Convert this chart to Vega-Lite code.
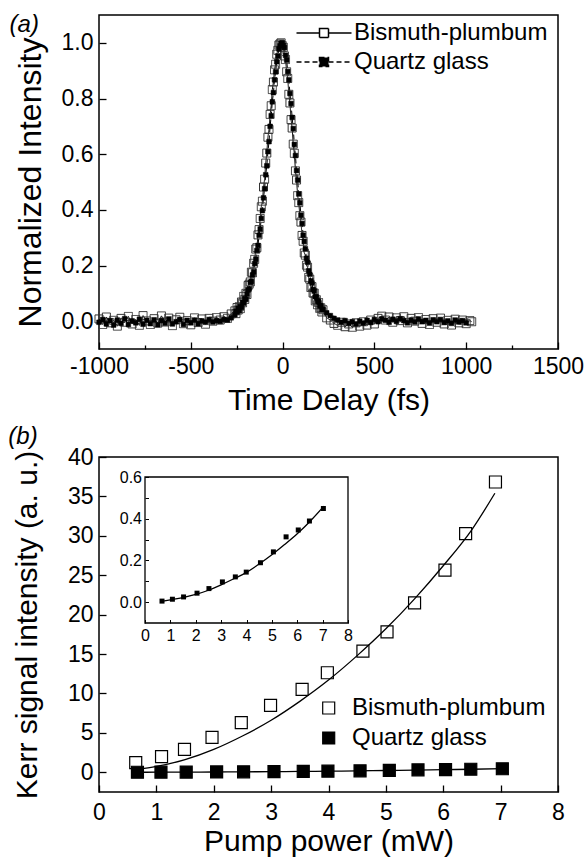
{
  "$schema": "https://vega.github.io/schema/vega-lite/v6.json",
  "background": "white",
  "padding": {"left": 7, "top": 12, "right": 0, "bottom": 0},
  "spacing": 8,
  "config": {
    "font": "Liberation Sans",
    "view": {"stroke": "black", "strokeWidth": 1.5},
    "axis": {"grid": false, "domain": false, "labelFont": "Liberation Sans", "titleFont": "Liberation Sans", "labelColor": "black", "titleColor": "black", "tickColor": "black", "tickWidth": 1.3, "labelFontSize": 23, "titleFontSize": 30, "titleFontWeight": "normal", "labelFlush": false, "labelOverlap": false},
    "legend": {"labelFont": "Liberation Sans", "labelColor": "black", "labelFontSize": 24, "labelLimit": 400, "padding": 0, "titlePadding": 0},
    "text": {"font": "Liberation Sans", "fontSize": 24, "color": "black"}
  },
  "datasets": {
    "pulse": [
      {"t":-1000,"Bismuth-plumbum":0.008,"Quartz glass":-0.004},
      {"t":-980,"Bismuth-plumbum":-0.012,"Quartz glass":0.006},
      {"t":-960,"Bismuth-plumbum":0.015,"Quartz glass":-0.010},
      {"t":-940,"Bismuth-plumbum":-0.006,"Quartz glass":0.002},
      {"t":-920,"Bismuth-plumbum":0.003,"Quartz glass":-0.014},
      {"t":-900,"Bismuth-plumbum":-0.018,"Quartz glass":0.004},
      {"t":-880,"Bismuth-plumbum":0.010,"Quartz glass":-0.008},
      {"t":-860,"Bismuth-plumbum":-0.004,"Quartz glass":0.009},
      {"t":-840,"Bismuth-plumbum":0.017,"Quartz glass":-0.012},
      {"t":-820,"Bismuth-plumbum":-0.010,"Quartz glass":0.001},
      {"t":-800,"Bismuth-plumbum":0.006,"Quartz glass":-0.006},
      {"t":-780,"Bismuth-plumbum":-0.015,"Quartz glass":0.007},
      {"t":-760,"Bismuth-plumbum":0.020,"Quartz glass":-0.011},
      {"t":-740,"Bismuth-plumbum":0.001,"Quartz glass":0.003},
      {"t":-720,"Bismuth-plumbum":-0.012,"Quartz glass":-0.009},
      {"t":-700,"Bismuth-plumbum":0.009,"Quartz glass":0.005},
      {"t":-680,"Bismuth-plumbum":-0.007,"Quartz glass":-0.013},
      {"t":-660,"Bismuth-plumbum":0.019,"Quartz glass":0.002},
      {"t":-640,"Bismuth-plumbum":-0.003,"Quartz glass":-0.007},
      {"t":-620,"Bismuth-plumbum":0.011,"Quartz glass":0.008},
      {"t":-600,"Bismuth-plumbum":-0.016,"Quartz glass":-0.010},
      {"t":-580,"Bismuth-plumbum":0.005,"Quartz glass":-0.002},
      {"t":-560,"Bismuth-plumbum":0.014,"Quartz glass":0.006},
      {"t":-540,"Bismuth-plumbum":-0.009,"Quartz glass":-0.012},
      {"t":-520,"Bismuth-plumbum":0.002,"Quartz glass":0.003},
      {"t":-500,"Bismuth-plumbum":-0.013,"Quartz glass":-0.006},
      {"t":-480,"Bismuth-plumbum":0.012,"Quartz glass":0.004},
      {"t":-460,"Bismuth-plumbum":-0.005,"Quartz glass":-0.009},
      {"t":-440,"Bismuth-plumbum":0.008,"Quartz glass":0.001},
      {"t":-420,"Bismuth-plumbum":-0.011,"Quartz glass":-0.004},
      {"t":-400,"Bismuth-plumbum":0.010,"Quartz glass":0.006},
      {"t":-380,"Bismuth-plumbum":0.000,"Quartz glass":-0.003},
      {"t":-360,"Bismuth-plumbum":0.013,"Quartz glass":0.002},
      {"t":-340,"Bismuth-plumbum":0.004,"Quartz glass":-0.001},
      {"t":-320,"Bismuth-plumbum":0.016,"Quartz glass":0.006},
      {"t":-300,"Bismuth-plumbum":0.010,"Quartz glass":0.004},
      {"t":-280,"Bismuth-plumbum":0.026,"Quartz glass":0.012},
      {"t":-260,"Bismuth-plumbum":0.037,"Quartz glass":0.023},
      {"t":-254,"Bismuth-plumbum":0.027,"Quartz glass":0.036},
      {"t":-248,"Bismuth-plumbum":0.049,"Quartz glass":0.033},
      {"t":-242,"Bismuth-plumbum":0.040,"Quartz glass":0.046},
      {"t":-236,"Bismuth-plumbum":0.052,"Quartz glass":0.038},
      {"t":-230,"Bismuth-plumbum":0.045,"Quartz glass":0.052},
      {"t":-224,"Bismuth-plumbum":0.069,"Quartz glass":0.050},
      {"t":-218,"Bismuth-plumbum":0.066,"Quartz glass":0.067},
      {"t":-212,"Bismuth-plumbum":0.089,"Quartz glass":0.067},
      {"t":-206,"Bismuth-plumbum":0.078,"Quartz glass":0.081},
      {"t":-200,"Bismuth-plumbum":0.100,"Quartz glass":0.078},
      {"t":-194,"Bismuth-plumbum":0.096,"Quartz glass":0.098},
      {"t":-188,"Bismuth-plumbum":0.128,"Quartz glass":0.112},
      {"t":-182,"Bismuth-plumbum":0.133,"Quartz glass":0.116},
      {"t":-176,"Bismuth-plumbum":0.141,"Quartz glass":0.139},
      {"t":-170,"Bismuth-plumbum":0.176,"Quartz glass":0.143},
      {"t":-164,"Bismuth-plumbum":0.174,"Quartz glass":0.166},
      {"t":-158,"Bismuth-plumbum":0.208,"Quartz glass":0.177},
      {"t":-152,"Bismuth-plumbum":0.222,"Quartz glass":0.207},
      {"t":-146,"Bismuth-plumbum":0.259,"Quartz glass":0.223},
      {"t":-140,"Bismuth-plumbum":0.264,"Quartz glass":0.254},
      {"t":-134,"Bismuth-plumbum":0.310,"Quartz glass":0.272},
      {"t":-128,"Bismuth-plumbum":0.329,"Quartz glass":0.309},
      {"t":-122,"Bismuth-plumbum":0.369,"Quartz glass":0.331},
      {"t":-116,"Bismuth-plumbum":0.411,"Quartz glass":0.369},
      {"t":-110,"Bismuth-plumbum":0.431,"Quartz glass":0.397},
      {"t":-104,"Bismuth-plumbum":0.482,"Quartz glass":0.443},
      {"t":-98,"Bismuth-plumbum":0.510,"Quartz glass":0.476},
      {"t":-92,"Bismuth-plumbum":0.568,"Quartz glass":0.526},
      {"t":-86,"Bismuth-plumbum":0.604,"Quartz glass":0.558},
      {"t":-80,"Bismuth-plumbum":0.661,"Quartz glass":0.609},
      {"t":-74,"Bismuth-plumbum":0.689,"Quartz glass":0.645},
      {"t":-68,"Bismuth-plumbum":0.743,"Quartz glass":0.700},
      {"t":-62,"Bismuth-plumbum":0.774,"Quartz glass":0.738},
      {"t":-56,"Bismuth-plumbum":0.832,"Quartz glass":0.788},
      {"t":-50,"Bismuth-plumbum":0.859,"Quartz glass":0.821},
      {"t":-44,"Bismuth-plumbum":0.903,"Quartz glass":0.867},
      {"t":-38,"Bismuth-plumbum":0.923,"Quartz glass":0.896},
      {"t":-32,"Bismuth-plumbum":0.959,"Quartz glass":0.932},
      {"t":-26,"Bismuth-plumbum":0.973,"Quartz glass":0.953},
      {"t":-20,"Bismuth-plumbum":0.992,"Quartz glass":0.978},
      {"t":-14,"Bismuth-plumbum":0.996,"Quartz glass":0.989},
      {"t":-8,"Bismuth-plumbum":1.000,"Quartz glass":0.998},
      {"t":-2,"Bismuth-plumbum":0.990,"Quartz glass":1.000},
      {"t":4,"Bismuth-plumbum":0.984,"Quartz glass":0.991},
      {"t":10,"Bismuth-plumbum":0.953,"Quartz glass":0.983},
      {"t":16,"Bismuth-plumbum":0.940,"Quartz glass":0.955},
      {"t":22,"Bismuth-plumbum":0.896,"Quartz glass":0.938},
      {"t":28,"Bismuth-plumbum":0.872,"Quartz glass":0.897},
      {"t":34,"Bismuth-plumbum":0.815,"Quartz glass":0.867},
      {"t":40,"Bismuth-plumbum":0.784,"Quartz glass":0.818},
      {"t":46,"Bismuth-plumbum":0.724,"Quartz glass":0.782},
      {"t":52,"Bismuth-plumbum":0.694,"Quartz glass":0.732},
      {"t":58,"Bismuth-plumbum":0.636,"Quartz glass":0.692},
      {"t":64,"Bismuth-plumbum":0.603,"Quartz glass":0.635},
      {"t":70,"Bismuth-plumbum":0.540,"Quartz glass":0.595},
      {"t":76,"Bismuth-plumbum":0.507,"Quartz glass":0.541},
      {"t":82,"Bismuth-plumbum":0.451,"Quartz glass":0.507},
      {"t":88,"Bismuth-plumbum":0.426,"Quartz glass":0.457},
      {"t":94,"Bismuth-plumbum":0.379,"Quartz glass":0.425},
      {"t":100,"Bismuth-plumbum":0.356,"Quartz glass":0.381},
      {"t":106,"Bismuth-plumbum":0.308,"Quartz glass":0.351},
      {"t":112,"Bismuth-plumbum":0.287,"Quartz glass":0.309},
      {"t":118,"Bismuth-plumbum":0.245,"Quartz glass":0.286},
      {"t":124,"Bismuth-plumbum":0.237,"Quartz glass":0.260},
      {"t":130,"Bismuth-plumbum":0.201,"Quartz glass":0.226},
      {"t":136,"Bismuth-plumbum":0.194,"Quartz glass":0.212},
      {"t":142,"Bismuth-plumbum":0.157,"Quartz glass":0.181},
      {"t":148,"Bismuth-plumbum":0.151,"Quartz glass":0.169},
      {"t":154,"Bismuth-plumbum":0.121,"Quartz glass":0.145},
      {"t":160,"Bismuth-plumbum":0.124,"Quartz glass":0.137},
      {"t":166,"Bismuth-plumbum":0.101,"Quartz glass":0.114},
      {"t":172,"Bismuth-plumbum":0.101,"Quartz glass":0.108},
      {"t":178,"Bismuth-plumbum":0.073,"Quartz glass":0.088},
      {"t":184,"Bismuth-plumbum":0.077,"Quartz glass":0.087},
      {"t":190,"Bismuth-plumbum":0.059,"Quartz glass":0.072},
      {"t":196,"Bismuth-plumbum":0.067,"Quartz glass":0.071},
      {"t":202,"Bismuth-plumbum":0.046,"Quartz glass":0.055},
      {"t":208,"Bismuth-plumbum":0.048,"Quartz glass":0.056},
      {"t":214,"Bismuth-plumbum":0.033,"Quartz glass":0.042},
      {"t":220,"Bismuth-plumbum":0.041,"Quartz glass":0.043},
      {"t":240,"Bismuth-plumbum":0.012,"Quartz glass":0.030},
      {"t":260,"Bismuth-plumbum":0.004,"Quartz glass":0.020},
      {"t":280,"Bismuth-plumbum":-0.008,"Quartz glass":0.010},
      {"t":300,"Bismuth-plumbum":-0.015,"Quartz glass":0.004},
      {"t":320,"Bismuth-plumbum":-0.004,"Quartz glass":-0.004},
      {"t":340,"Bismuth-plumbum":-0.020,"Quartz glass":0.002},
      {"t":360,"Bismuth-plumbum":-0.010,"Quartz glass":-0.008},
      {"t":380,"Bismuth-plumbum":-0.022,"Quartz glass":-0.002},
      {"t":400,"Bismuth-plumbum":-0.006,"Quartz glass":-0.010},
      {"t":420,"Bismuth-plumbum":-0.018,"Quartz glass":0.000},
      {"t":440,"Bismuth-plumbum":-0.002,"Quartz glass":-0.007},
      {"t":460,"Bismuth-plumbum":-0.014,"Quartz glass":0.003},
      {"t":480,"Bismuth-plumbum":0.004,"Quartz glass":-0.005},
      {"t":500,"Bismuth-plumbum":-0.010,"Quartz glass":0.006},
      {"t":520,"Bismuth-plumbum":0.010,"Quartz glass":-0.002},
      {"t":540,"Bismuth-plumbum":0.018,"Quartz glass":0.008},
      {"t":560,"Bismuth-plumbum":0.004,"Quartz glass":0.003},
      {"t":580,"Bismuth-plumbum":0.015,"Quartz glass":-0.004},
      {"t":600,"Bismuth-plumbum":-0.004,"Quartz glass":0.007},
      {"t":620,"Bismuth-plumbum":0.012,"Quartz glass":-0.001},
      {"t":640,"Bismuth-plumbum":0.002,"Quartz glass":0.009},
      {"t":660,"Bismuth-plumbum":0.016,"Quartz glass":0.002},
      {"t":680,"Bismuth-plumbum":-0.006,"Quartz glass":-0.006},
      {"t":700,"Bismuth-plumbum":0.010,"Quartz glass":0.004},
      {"t":720,"Bismuth-plumbum":0.000,"Quartz glass":-0.003},
      {"t":740,"Bismuth-plumbum":0.013,"Quartz glass":0.008},
      {"t":760,"Bismuth-plumbum":-0.008,"Quartz glass":-0.002},
      {"t":780,"Bismuth-plumbum":0.006,"Quartz glass":0.003},
      {"t":800,"Bismuth-plumbum":-0.012,"Quartz glass":-0.007},
      {"t":820,"Bismuth-plumbum":0.009,"Quartz glass":0.005},
      {"t":840,"Bismuth-plumbum":-0.004,"Quartz glass":-0.002},
      {"t":860,"Bismuth-plumbum":0.011,"Quartz glass":0.006},
      {"t":880,"Bismuth-plumbum":-0.010,"Quartz glass":-0.005},
      {"t":900,"Bismuth-plumbum":0.003,"Quartz glass":0.001},
      {"t":920,"Bismuth-plumbum":-0.014,"Quartz glass":-0.008},
      {"t":940,"Bismuth-plumbum":0.007,"Quartz glass":0.004},
      {"t":960,"Bismuth-plumbum":-0.006,"Quartz glass":-0.003},
      {"t":980,"Bismuth-plumbum":0.004,"Quartz glass":0.002},
      {"t":1000,"Bismuth-plumbum":-0.009,"Quartz glass":-0.006},
      {"t":1020,"Bismuth-plumbum":0.002},
      {"t":1030,"Bismuth-plumbum":-0.002}
    ],
    "kerr": [
      {"series":"Bismuth-plumbum","power":0.64,"signal":1.22},
      {"series":"Bismuth-plumbum","power":1.09,"signal":1.99},
      {"series":"Bismuth-plumbum","power":1.49,"signal":2.91},
      {"series":"Bismuth-plumbum","power":1.97,"signal":4.43},
      {"series":"Bismuth-plumbum","power":2.48,"signal":6.29},
      {"series":"Bismuth-plumbum","power":2.99,"signal":8.49},
      {"series":"Bismuth-plumbum","power":3.54,"signal":10.52},
      {"series":"Bismuth-plumbum","power":3.98,"signal":12.63},
      {"series":"Bismuth-plumbum","power":4.60,"signal":15.37},
      {"series":"Bismuth-plumbum","power":5.02,"signal":17.82},
      {"series":"Bismuth-plumbum","power":5.50,"signal":21.50},
      {"series":"Bismuth-plumbum","power":6.03,"signal":25.64},
      {"series":"Bismuth-plumbum","power":6.39,"signal":30.28},
      {"series":"Bismuth-plumbum","power":6.91,"signal":36.83},
      {"series":"Quartz glass","power":0.67,"signal":0.005},
      {"series":"Quartz glass","power":1.08,"signal":0.014},
      {"series":"Quartz glass","power":1.52,"signal":0.025},
      {"series":"Quartz glass","power":2.05,"signal":0.043},
      {"series":"Quartz glass","power":2.52,"signal":0.065},
      {"series":"Quartz glass","power":3.05,"signal":0.097},
      {"series":"Quartz glass","power":3.56,"signal":0.121},
      {"series":"Quartz glass","power":3.99,"signal":0.144},
      {"series":"Quartz glass","power":4.55,"signal":0.189},
      {"series":"Quartz glass","power":5.06,"signal":0.241},
      {"series":"Quartz glass","power":5.56,"signal":0.313},
      {"series":"Quartz glass","power":6.04,"signal":0.346},
      {"series":"Quartz glass","power":6.48,"signal":0.389},
      {"series":"Quartz glass","power":7.03,"signal":0.449}
    ],
    "fit": [
      {"series":"Bismuth-plumbum","power":0.65,"signal":0.35},
      {"series":"Bismuth-plumbum","power":1.0,"signal":0.75},
      {"series":"Bismuth-plumbum","power":1.5,"signal":1.6},
      {"series":"Bismuth-plumbum","power":2.0,"signal":2.9},
      {"series":"Bismuth-plumbum","power":2.5,"signal":4.6},
      {"series":"Bismuth-plumbum","power":3.0,"signal":6.6},
      {"series":"Bismuth-plumbum","power":3.5,"signal":9.0},
      {"series":"Bismuth-plumbum","power":4.0,"signal":11.7},
      {"series":"Bismuth-plumbum","power":4.5,"signal":14.8},
      {"series":"Bismuth-plumbum","power":5.0,"signal":18.2},
      {"series":"Bismuth-plumbum","power":5.5,"signal":22.0},
      {"series":"Bismuth-plumbum","power":6.0,"signal":26.2},
      {"series":"Bismuth-plumbum","power":6.5,"signal":30.8},
      {"series":"Bismuth-plumbum","power":6.9,"signal":35.4},
      {"series":"Quartz glass","power":0.65,"signal":0.004},
      {"series":"Quartz glass","power":1.0,"signal":0.011},
      {"series":"Quartz glass","power":1.5,"signal":0.022},
      {"series":"Quartz glass","power":2.0,"signal":0.037},
      {"series":"Quartz glass","power":2.5,"signal":0.057},
      {"series":"Quartz glass","power":3.0,"signal":0.083},
      {"series":"Quartz glass","power":3.5,"signal":0.112},
      {"series":"Quartz glass","power":4.0,"signal":0.143},
      {"series":"Quartz glass","power":4.5,"signal":0.183},
      {"series":"Quartz glass","power":5.0,"signal":0.227},
      {"series":"Quartz glass","power":5.5,"signal":0.276},
      {"series":"Quartz glass","power":6.0,"signal":0.328},
      {"series":"Quartz glass","power":6.5,"signal":0.387},
      {"series":"Quartz glass","power":7.05,"signal":0.46}
    ]
  },
  "resolve": {
    "scale": {"fill": "independent", "strokeDash": "independent"},
    "legend": {"fill": "independent", "strokeDash": "independent"}
  },
  "vconcat": [
    {
      "width": 459,
      "height": 334,
      "layer": [
        {
          "data": {"name": "pulse"},
          "transform": [{"fold": ["Bismuth-plumbum", "Quartz glass"], "as": ["series", "value"]}],
          "mark": {"type": "line", "color": "black", "strokeWidth": 1},
          "encoding": {
            "x": {
              "field": "t", "type": "quantitative",
              "scale": {"domain": [-1000, 1500], "nice": false, "zero": false},
              "axis": {
                "title": "Time Delay (fs)",
                "values": [-1000, -750, -500, -250, 0, 250, 500, 750, 1000, 1250, 1500],
                "labelExpr": "datum.value % 500 === 0 ? toString(datum.value) : ''",
                "tickSize": {"condition": {"test": "datum.value % 500 === 0", "value": -7}, "value": -4},
                "labelPadding": 13.5,
                "titlePadding": 3.5
              }
            },
            "y": {
              "field": "value", "type": "quantitative",
              "scale": {"domain": [-0.1, 1.1], "nice": false, "zero": false},
              "axis": {
                "title": "Normalized Intensity",
                "titleFontSize": 32,
                "values": [0, 0.1, 0.2, 0.3, 0.4, 0.5, 0.6, 0.7, 0.8, 0.9, 1.0],
                "labelExpr": "abs(datum.value * 5 - round(datum.value * 5)) < 0.001 ? format(datum.value, '.1f') : ''",
                "tickSize": {"condition": {"test": "abs(datum.value * 5 - round(datum.value * 5)) < 0.001", "value": -7}, "value": -4},
                "labelPadding": 13,
                "titlePadding": 14
              }
            },
            "strokeDash": {"field": "series", "type": "nominal", "scale": {"domain": ["Bismuth-plumbum", "Quartz glass"], "range": [[1, 0], [5, 3]]},
              "legend": {"title": null, "orient": "none", "legendX": 213, "legendY": 6, "symbolType": "M-2.75,0H-0.45M0.45,0H2.75M-0.45,-0.45H0.45V0.45H-0.45Z", "symbolSize": 400, "labelOffset": 18, "rowPadding": 5, "labelBaseline": "middle", "encoding": {"symbols": {"update": {"stroke": {"value": "black"}, "strokeWidth": {"value": 1.3}, "opacity": {"value": 1}}}}}}
          }
        },
        {
          "data": {"name": "pulse"},
          "transform": [{"fold": ["Bismuth-plumbum", "Quartz glass"], "as": ["series", "value"]}, {"filter": "datum.series === 'Bismuth-plumbum'"}],
          "mark": {"type": "point", "shape": "square", "filled": true, "size": 64, "stroke": "#333333", "strokeWidth": 1, "opacity": 1},
          "encoding": {
            "x": {"field": "t", "type": "quantitative"},
            "y": {"field": "value", "type": "quantitative"},
            "fill": {"field": "series", "type": "nominal", "scale": {"domain": ["Bismuth-plumbum", "Quartz glass"], "range": ["transparent", "black"]},
              "legend": {"title": null, "orient": "none", "legendX": 213, "legendY": 6, "symbolType": "M-2.75,0H-0.45M0.45,0H2.75M-0.45,-0.45H0.45V0.45H-0.45Z", "symbolSize": 400, "labelOffset": 18, "rowPadding": 5, "labelBaseline": "middle", "encoding": {"symbols": {"update": {"stroke": {"value": "black"}, "strokeWidth": {"value": 1.3}, "opacity": {"value": 1}}}}}},
            "strokeDash": {"field": "series", "type": "nominal",
              "legend": {"title": null, "orient": "none", "legendX": 213, "legendY": 6, "symbolType": "M-2.75,0H-0.45M0.45,0H2.75M-0.45,-0.45H0.45V0.45H-0.45Z", "symbolSize": 400, "labelOffset": 18, "rowPadding": 5, "labelBaseline": "middle", "encoding": {"symbols": {"update": {"stroke": {"value": "black"}, "strokeWidth": {"value": 1.3}, "opacity": {"value": 1}}}}}}
          }
        },
        {
          "data": {"name": "pulse"},
          "transform": [{"fold": ["Bismuth-plumbum", "Quartz glass"], "as": ["series", "value"]}, {"filter": "datum.series === 'Quartz glass'"}],
          "mark": {"type": "point", "shape": "square", "filled": true, "size": 22, "stroke": "black", "strokeWidth": 0.5, "opacity": 1},
          "encoding": {
            "x": {"field": "t", "type": "quantitative"},
            "y": {"field": "value", "type": "quantitative"},
            "fill": {"field": "series", "type": "nominal",
              "legend": {"title": null, "orient": "none", "legendX": 213, "legendY": 6, "symbolType": "M-2.75,0H-0.45M0.45,0H2.75M-0.45,-0.45H0.45V0.45H-0.45Z", "symbolSize": 400, "labelOffset": 18, "rowPadding": 5, "labelBaseline": "middle", "encoding": {"symbols": {"update": {"stroke": {"value": "black"}, "strokeWidth": {"value": 1.3}, "opacity": {"value": 1}}}}}}
          }
        },
        {
          "data": {"values": [{"panel": "(a)"}]},
          "mark": {"type": "text", "align": "left", "baseline": "middle", "fontStyle": "italic", "fontSize": 24},
          "encoding": {
            "x": {"datum": -1487, "type": "quantitative"},
            "y": {"datum": 1.064, "type": "quantitative"},
            "text": {"field": "panel", "type": "nominal"}
          }
        }
      ]
    },
    {
      "width": 459,
      "height": 335,
      "resolve": {
        "scale": {"x": "independent", "y": "independent"},
        "axis": {"x": "independent", "y": "independent"}
      },
      "layer": [
        {
          "layer": [
            {
              "data": {"name": "fit"},
              "mark": {"type": "line", "color": "black", "strokeWidth": 1.3, "interpolate": "monotone"},
              "encoding": {
                "x": {
                  "field": "power", "type": "quantitative",
                  "scale": {"domain": [0, 8], "nice": false, "zero": false},
                  "axis": {
                    "title": "Pump power (mW)",
                    "orient": "bottom",
                    "values": [0, 0.5, 1, 1.5, 2, 2.5, 3, 3.5, 4, 4.5, 5, 5.5, 6, 6.5, 7, 7.5, 8],
                    "labelExpr": "datum.value % 1 === 0 ? toString(datum.value) : ''",
                    "tickSize": {"condition": {"test": "datum.value % 1 === 0", "value": -7}, "value": -4},
                    "labelPadding": 16.5,
                    "titlePadding": 2
                  }
                },
                "y": {
                  "field": "signal", "type": "quantitative",
                  "scale": {"domain": [-2.5, 40], "nice": false, "zero": false},
                  "axis": {
                    "title": "Kerr signal intensity (a. u.)",
                    "orient": "left",
                    "values": [0, 2.5, 5, 7.5, 10, 12.5, 15, 17.5, 20, 22.5, 25, 27.5, 30, 32.5, 35, 37.5, 40],
                    "labelExpr": "datum.value % 5 === 0 ? toString(datum.value) : ''",
                    "tickSize": {"condition": {"test": "datum.value % 5 === 0", "value": -7}, "value": -4},
                    "labelPadding": 13,
                    "titlePadding": 25
                  }
                },
                "detail": {"field": "series", "type": "nominal"}
              }
            },
            {
              "data": {"name": "kerr"},
              "mark": {"type": "point", "shape": "square", "size": 144, "filled": true, "stroke": "black", "strokeWidth": 1.2, "opacity": 1},
              "encoding": {
                "x": {"field": "power", "type": "quantitative"},
                "y": {"field": "signal", "type": "quantitative"},
                "fill": {
                  "field": "series", "type": "nominal",
                  "scale": {"domain": ["Bismuth-plumbum", "Quartz glass"], "range": ["transparent", "black"]},
                  "legend": {"title": null, "orient": "none", "legendX": 217.7, "legendY": 239, "symbolType": "square", "symbolSize": 144, "symbolStrokeColor": "black", "symbolStrokeWidth": 1.2, "labelOffset": 11.3, "rowPadding": 6, "labelBaseline": "middle"}
                }
              }
            },
            {
              "data": {"values": [{"panel": "(b)"}]},
              "mark": {"type": "text", "align": "left", "baseline": "middle", "fontStyle": "italic", "fontSize": 24},
              "encoding": {
                "x": {"datum": -1.58, "type": "quantitative"},
                "y": {"datum": 42.54, "type": "quantitative"},
                "text": {"field": "panel", "type": "nominal"}
              }
            }
          ]
        },
        {
          "layer": [
            {
              "data": {"values": [{"frame": "inset"}]},
              "mark": {"type": "rect", "fill": "transparent", "stroke": "black", "strokeWidth": 1.3},
              "encoding": {
                "x": {"datum": 0, "type": "quantitative"},
                "x2": {"datum": 8},
                "y": {"datum": -0.1, "type": "quantitative"},
                "y2": {"datum": 0.6}
              }
            },
            {
              "data": {"name": "fit"},
              "transform": [{"filter": "datum.series === 'Quartz glass'"}],
              "mark": {"type": "line", "color": "black", "strokeWidth": 1.3, "interpolate": "monotone"},
              "encoding": {
                "x": {
                  "field": "power", "type": "quantitative",
                  "scale": {"domain": [0, 8], "range": [46, 249], "nice": false, "zero": false},
                  "axis": {"title": null, "orient": "bottom", "offset": -169, "values": [0, 0.5, 1, 1.5, 2, 2.5, 3, 3.5, 4, 4.5, 5, 5.5, 6, 6.5, 7, 7.5, 8], "labelExpr": "datum.value % 1 === 0 ? toString(datum.value) : ''", "tickSize": -3.5, "tickWidth": 1, "labelFontSize": 16, "labelPadding": 7.5}
                },
                "y": {
                  "field": "signal", "type": "quantitative",
                  "scale": {"domain": [-0.1, 0.6], "range": [166, 20], "nice": false, "zero": false},
                  "axis": {"title": null, "orient": "left", "offset": -46, "values": [0, 0.1, 0.2, 0.3, 0.4, 0.5, 0.6], "labelExpr": "abs(datum.value * 5 - round(datum.value * 5)) < 0.001 ? format(datum.value, '.1f') : ''", "tickSize": -3.5, "tickWidth": 1, "labelFontSize": 16, "labelPadding": 7}
                }
              }
            },
            {
              "data": {"name": "kerr"},
              "transform": [{"filter": "datum.series === 'Quartz glass'"}],
              "mark": {"type": "point", "shape": "square", "size": 25, "filled": true, "color": "black", "opacity": 1},
              "encoding": {
                "x": {"field": "power", "type": "quantitative"},
                "y": {"field": "signal", "type": "quantitative"}
              }
            }
          ]
        }
      ]
    }
  ]
}
